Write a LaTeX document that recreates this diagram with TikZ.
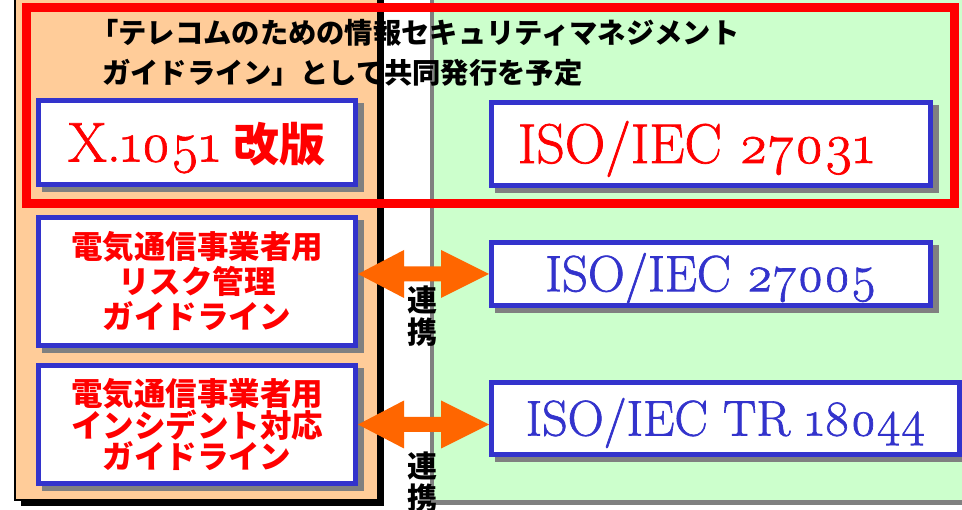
\documentclass[tikz,border=0pt]{standalone}
\usepackage{fontspec}
\newfontfamily\jp{Noto Sans CJK JP}
\newfontfamily\ser{Latin Modern Roman}[Numbers=OldStyle, FakeBold=1.3]
\usetikzlibrary{calc}
\definecolor{panelorange}{HTML}{FFCC99}
\definecolor{panelgreen}{HTML}{CCFFCC}
\definecolor{boxblue}{HTML}{3333CC}
\definecolor{shadowgray}{HTML}{808080}
\definecolor{arroworange}{HTML}{FF6600}
\definecolor{framered}{HTML}{FF0000}
\begin{document}
\begin{tikzpicture}[x=1pt,y=-1pt,
  box/.style={draw=boxblue, line width=5pt, fill=white, inner sep=0pt,
    preaction={draw=shadowgray, fill=shadowgray,
      transform canvas={shift={(5.5pt,-5.5pt)}}}},
  bigiso/.style={font=\ser\fontsize{56}{62}\selectfont, text height=38pt, text depth=0pt},
  midiso/.style={font=\ser\fontsize{51}{58}\selectfont, text height=34.5pt, text depth=0pt},
  smiso/.style={font=\ser\fontsize{50}{58}\selectfont, text height=34pt, text depth=0pt},
  ttl/.style={font=\jp\bfseries\fontsize{28.3}{40}\selectfont, text=black, inner sep=0pt, anchor=west},
  guide/.style={font=\jp\bfseries\fontsize{31.5}{35}\selectfont, text=framered, align=center},
  guidetight/.style={font=\jp\bfseries\fontsize{31.5}{31}\selectfont, text=framered, align=center},
  renkei/.style={font=\jp\bfseries\fontsize{30}{32}\selectfont, text=black, align=center, inner sep=0pt},
  dblarrow/.style={fill=arroworange}
]
\useasboundingbox (0,0) rectangle (962,510);
\fill[white] (0,0) rectangle (962,510);
% left (orange) panel with black shadow
\fill[black] (21,-10) rectangle (384,506);
\filldraw[fill=panelorange, draw=black, line width=1.3pt] (15,-10) rectangle (378,500);
% right (green) panel with gray edge
\fill[shadowgray] (430,-10) rectangle (975,505);
\fill[panelgreen] (434,-10) rectangle (975,500);
% red frame
\draw[framered, line width=9pt] (26.5,7.5) rectangle (954,203.5);
% title
\node[ttl] (t1) at (90,33) {「テレコムのための情報セキュリティマネジメント};
\node[ttl] (t2) at (102,73) {ガイドライン」として共同発行を予定};
% boxes
\node[box, minimum width=317pt, minimum height=84pt, text height=38pt, text depth=0pt] (b1) at (197,142.5)
  {\textcolor{framered}{{\ser\fontsize{56}{62}\selectfont X.1051}\hspace{14pt}{\jp\bfseries\fontsize{46}{50}\selectfont 改版}}};
\node[box, bigiso, text=framered, minimum width=439pt, minimum height=83pt] (i1) at (711,144) {ISO/IEC 27031\kern30pt};
\node[box, guide, minimum width=317pt, minimum height=128pt] (b2) at (197,281.5)
  {電気通信事業者用\\リスク管理\\ガイドライン};
\node[box, guidetight, minimum width=317pt, minimum height=118pt] (b3) at (197,424.5)
  {電気通信事業者用\\インシデント対応\\ガイドライン};
\node[box, midiso, text=boxblue, minimum width=439pt, minimum height=63pt] (i2) at (711,274) {ISO/IEC 27005};
\node[box, smiso, text=boxblue, minimum width=468pt, minimum height=72pt] (i3) at (725.5,418.5) {ISO/IEC TR 18044};
% double arrows
\coordinate (L1) at (b2.east |- i2.west);
\coordinate (R1) at (i2.west);
\coordinate (L2) at (b3.east);
\coordinate (R2) at (i3.west |- b3.east);
\fill[dblarrow] (L1) -- ($(L1)+(46,-24)$) -- ($(L1)+(46,-7.5)$) -- ($(R1)+(-48,-7.5)$) -- ($(R1)+(-48,-24)$)
  -- (R1) -- ($(R1)+(-48,24)$) -- ($(R1)+(-48,7.5)$) -- ($(L1)+(46,7.5)$) -- ($(L1)+(46,24)$) -- cycle;
\fill[dblarrow] (L2) -- ($(L2)+(46,-24)$) -- ($(L2)+(46,-7.5)$) -- ($(R2)+(-48,-7.5)$) -- ($(R2)+(-48,-24)$)
  -- (R2) -- ($(R2)+(-48,24)$) -- ($(R2)+(-48,7.5)$) -- ($(L2)+(46,7.5)$) -- ($(L2)+(46,24)$) -- cycle;
% labels
\node[renkei] (r1) at (422,316) {連\\携};
\node[renkei] (r2) at (422,482) {連\\携};
\end{tikzpicture}
\end{document}
